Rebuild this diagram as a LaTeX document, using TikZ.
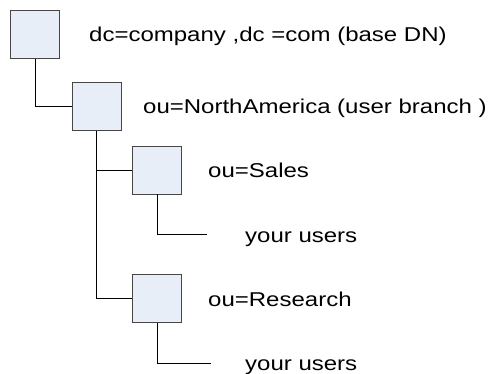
\documentclass[tikz,border=0pt]{standalone}
\usepackage{fontspec}
\setmainfont{Liberation Sans}[FakeStretch=1.2]
\usepackage{tikz}
\usetikzlibrary{positioning}
\definecolor{boxfill}{RGB}{232,238,247}
\definecolor{boxline}{RGB}{70,70,70}
\tikzset{%
	entry/.style   = {draw=boxline, fill=boxfill, line width=0.9pt, rectangle, minimum width=49pt, minimum height=48pt, inner sep=0pt},
	dntext/.style  = {anchor=base west, inner sep=0pt, font=\fontsize{20pt}{24pt}\selectfont},
	link/.style    = {line width=0.9pt, black},
}

\begin{document}
\begin{tikzpicture}[x=1pt,y=-1pt]
	\useasboundingbox (0,0) rectangle (500,374);
	
	\node[entry] (base) at (35,34.5) {};
	\node[entry] (branch) at (96.5,106.5) {};
	\node[entry] (sales) at (157,170) {};
	\node[entry] (research) at (157,298.5) {};
	
	\node[dntext] (basetxt) at (89,42) {dc=company ,dc =com (base DN)};
	\node[dntext] (branchtxt) at (143,113.5) {ou=NorthAmerica (user branch )};
	\node[dntext] (salestxt) at (208,177.5) {ou=Sales};
	\node[dntext] (researchtxt) at (208,306.5) {ou=Research};
	\node[dntext] (salesusers) at (245,242.5) {your users};
	\node[dntext] (researchusers) at (245,370) {your users};
	
	\coordinate (salesend) at (207,234);
	\coordinate (researchend) at (211,363);
	
	\draw[link] (base.south) |- (branch.west);
	\draw[link] (branch.south) |- (sales.west);
	\draw[link] (branch.south) |- (research.west);
	\draw[link] (sales.south) |- (salesend);
	\draw[link] (research.south) |- (researchend);
\end{tikzpicture}
\end{document}
